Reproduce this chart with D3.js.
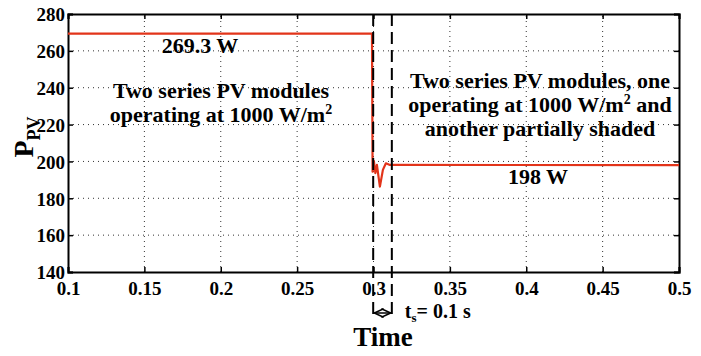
<!DOCTYPE html>
<html>
<head>
<script src="https://d3js.org/d3.v7.min.js"></script>
<style>
  body { margin: 0; background: #fff; }
  svg text { font-family: "Liberation Serif", "Times New Roman", Times, serif; font-weight: bold; }
</style>
</head>
<body>
<script>
// time (s) and power (W)
var times  = [0.1, 0.2990, 0.2994, 0.30026, 0.30124, 0.30223, 0.30419, 0.30615, 0.30812, 0.31073, 0.5];
var power  = [269.3, 269.3, 194.4, 200.2, 193.7, 198.1, 186.3, 195.4, 199.0, 198.1, 198];
var xTicks = [0.1, 0.15, 0.2, 0.25, 0.3, 0.35, 0.4, 0.45, 0.5];
var yTicks = [140, 160, 180, 200, 220, 240, 260, 280];
var markers = [0.2998, 0.312]; // settling window

var w = 701, h = 356;
var m = {left: 68, right: 22, top: 14, bottom: 84};
var serif = "'Liberation Serif', 'Times New Roman', serif";

var svg = d3.select("body").append("svg").attr("width", w).attr("height", h)
	.attr("font-family", serif).attr("font-weight", "bold");

var x = d3.scaleLinear().domain([0.1, 0.5]).range([m.left, w - m.right]);
var y = d3.scaleLinear().domain([140, 280]).range([h - m.bottom, m.top]);

// dotted grid
svg.append("g").selectAll("line").data(xTicks.slice(1, -1)).enter().append("line")
	.attr("x1", function(d){return x(d);}).attr("x2", function(d){return x(d);})
	.attr("y1", y(140)).attr("y2", y(280))
	.attr("stroke", "#333").attr("stroke-width", 1).attr("stroke-dasharray", "1,4");
svg.append("g").selectAll("line").data(yTicks.slice(1, -1)).enter().append("line")
	.attr("x1", x(0.1)).attr("x2", x(0.5))
	.attr("y1", function(d){return y(d);}).attr("y2", function(d){return y(d);})
	.attr("stroke", "#333").attr("stroke-width", 1).attr("stroke-dasharray", "1,4");

// axes with inward ticks
var xAxis = d3.axisBottom(x).tickValues(xTicks).tickSize(-5).tickPadding(10)
	.tickFormat(function(d){return d3.format("")(+d.toFixed(2));});
var yAxis = d3.axisLeft(y).tickValues(yTicks).tickSize(-5).tickPadding(3);

var gx = svg.append("g").attr("transform", "translate(0," + y(140) + ")").call(xAxis);
var gy = svg.append("g").attr("transform", "translate(" + x(0.1) + ",0)").call(yAxis);
svg.append("g").attr("transform", "translate(0," + y(280) + ")")
	.call(d3.axisTop(x).tickValues(xTicks).tickSize(-5).tickFormat(""));
svg.append("g").attr("transform", "translate(" + x(0.5) + ",0)")
	.call(d3.axisRight(y).tickValues(yTicks).tickSize(-5).tickFormat(""));

svg.selectAll("g").attr("font-family", null).attr("font-size", null);
svg.selectAll(".domain").attr("stroke", "#000").attr("stroke-width", 2);
svg.selectAll(".tick line").attr("stroke", "#000").attr("stroke-width", 1.5);
svg.selectAll(".tick text").attr("font-size", 19).attr("fill", "#000");
gy.selectAll(".tick text").attr("dy", "0.36em");

// power trace
var line = d3.line().x(function(d){return x(d[0]);}).y(function(d){return y(d[1]);});
svg.append("path")
	.datum(d3.zip(times, power))
	.attr("d", line)
	.attr("fill", "none").attr("stroke", "#e2341a").attr("stroke-width", 2.2)
	.attr("stroke-linejoin", "round");

// dashed settling markers
svg.selectAll(".mark").data(markers).enter().append("line")
	.attr("x1", function(d){return x(d);}).attr("x2", function(d){return x(d);})
	.attr("y1", y(280)).attr("y2", y(140) + 44)
	.attr("stroke", "#000").attr("stroke-width", 2).attr("stroke-dasharray", "12,6");

// double arrow
var ay = y(140) + 41;
svg.append("defs").append("marker").attr("id", "ah").attr("viewBox", "0 0 10 10")
	.attr("refX", 9).attr("refY", 5).attr("markerWidth", 7).attr("markerHeight", 7)
	.attr("orient", "auto-start-reverse")
	.append("path").attr("d", "M0,1 L9,5 L0,9").attr("fill", "none").attr("stroke", "#000").attr("stroke-width", 1.5);
svg.append("line").attr("x1", x(markers[0]) + 1).attr("x2", x(markers[1]) - 1)
	.attr("y1", ay).attr("y2", ay).attr("stroke", "#000").attr("stroke-width", 1.5)
	.attr("marker-start", "url(#ah)").attr("marker-end", "url(#ah)");

var ts = svg.append("text").attr("x", x(markers[1]) + 13).attr("y", ay + 5).attr("font-size", 20);
ts.append("tspan").text("t");
ts.append("tspan").attr("font-size", 13).attr("dy", 4).text("s");
ts.append("tspan").attr("font-size", 20).attr("dy", -4).text("= 0.1 s");

// axis titles
svg.append("text").attr("x", 383).attr("y", 346).attr("text-anchor", "middle")
	.attr("font-size", 27).text("Time");
var yl = svg.append("text").attr("transform", "translate(33,137) rotate(-90)")
	.attr("text-anchor", "middle").attr("font-size", 28);
yl.append("tspan").text("P");
yl.append("tspan").attr("font-size", 18).attr("dy", 7).text("PV");

// annotations
function note(cx, lines, top) {
	lines.forEach(function(l, i) {
		var t = svg.append("text").attr("x", cx).attr("y", top + i * 24)
			.attr("text-anchor", "middle").attr("font-size", 22);
		l.forEach(function(p) {
			var s = t.append("tspan").text(p[0]);
			if (p[1]) s.attr("font-size", p[2]).attr("dy", p[1]);
		});
	});
}
note(200, [[["269.3 W"]]], 53);
note(221, [[["Two series PV modules"]], [["operating at 1000 W/m"], ["2", -8, 14]]], 98);
note(540, [[["Two series PV modules, one"]],
	[["operating at 1000 W/m"], ["2", -8, 14], [" and", 8, 22]],
	[["another partially shaded"]]], 88);
note(538, [[["198 W"]]], 184);
</script>
</body>
</html>
